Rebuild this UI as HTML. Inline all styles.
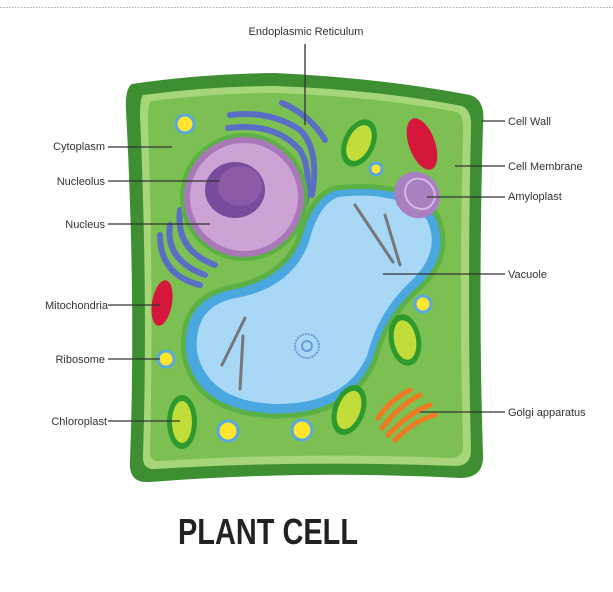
<!DOCTYPE html>
<html><head><meta charset="utf-8"><style>
html,body{margin:0;padding:0;background:#fff;width:613px;height:592px;overflow:hidden}
svg{display:block}
text{font-family:"Liberation Sans",sans-serif;fill:#333;font-size:11px}
</style></head><body>
<svg width="613" height="592" viewBox="0 0 613 592">
<line x1="0" y1="7.5" x2="613" y2="7.5" stroke="#aaa" stroke-dasharray="1.5,1.5"/>
<!-- cell wall -->
<path d="M132,84 Q200,74 275,73 Q380,78 470,95 Q486,100 483,125 Q478,300 483,455 Q484,478 460,478 Q300,470 150,482 Q128,484 130,460 Q136,300 126,110 Q125,88 132,84 Z" fill="#3d8f32"/>
<path d="M143,95 Q210,86 275,86 Q380,90 462,106 Q472,110 471,128 Q467,300 471,450 Q471,466 455,466 Q300,460 155,469 Q142,470 143,455 Q148,300 140,115 Q140,98 143,95 Z" fill="#a6d57a"/>
<path d="M151,101 Q215,93 275,93 Q380,97 457,112 Q464,116 463,130 Q459,300 463,446 Q463,458 450,458 Q300,452 160,461 Q149,462 150,450 Q154,300 148,120 Q148,104 151,101 Z" fill="#7cc054"/>
<!-- ER -->
<g fill="none" stroke="#5a6fc4" stroke-width="6" stroke-linecap="round">
<path d="M230,115 Q270,110 300,130 Q320,150 312,195"/>
<path d="M228,128 Q275,122 300,150 Q312,170 305,205"/>
<path d="M220,142 Q270,138 292,168 Q300,185 295,215"/>
<path d="M282,103 Q310,115 325,140"/>
<path d="M170,225 Q165,260 205,275"/>
<path d="M160,235 Q160,275 200,285"/>
<path d="M180,210 Q175,250 215,265"/>
</g>
<!-- nucleus -->
<circle cx="244" cy="197" r="64" fill="#5bb046"/>
<circle cx="244" cy="197" r="60" fill="#a878b8"/>
<circle cx="244" cy="197" r="54" fill="#cda2d5"/>
<ellipse cx="235" cy="190" rx="30" ry="28" fill="#7a4b9c"/>
<ellipse cx="240" cy="186" rx="22" ry="20" fill="#8d5aa8"/>
<!-- vacuole -->
<path d="M335,188 Q410,180 437,215 Q455,255 420,288 Q385,318 375,360 Q350,418 272,416 Q195,412 184,355 Q178,300 228,288 Q285,278 300,235 Q312,195 335,188 Z" fill="#4aa7e0" stroke="#5bb046" stroke-width="5"/>
<path d="M338,197 Q403,190 427,220 Q442,252 410,282 Q378,312 367,356 Q345,405 274,404 Q208,401 197,352 Q193,306 236,298 Q292,288 309,242 Q318,205 338,197 Z" fill="#a8d8f5"/>
<g stroke="#777" stroke-width="3" stroke-linecap="round">
<line x1="355" y1="205" x2="393" y2="262"/><line x1="385" y1="215" x2="400" y2="265"/>
<line x1="245" y1="318" x2="222" y2="365"/><line x1="243" y1="336" x2="240" y2="389"/>
</g>
<circle cx="307" cy="346" r="12" fill="none" stroke="#6b9ad8" stroke-width="2" stroke-dasharray="2,1"/>
<circle cx="307" cy="346" r="5" fill="none" stroke="#6b9ad8" stroke-width="2"/>
<!-- ribosomes -->
<g fill="#ffe62e" stroke="#5aa8e0" stroke-width="3">
<circle cx="185" cy="124" r="9"/><circle cx="376" cy="169" r="6"/><circle cx="423" cy="304" r="8"/>
<circle cx="166" cy="359" r="8"/><circle cx="228" cy="431" r="10"/><circle cx="302" cy="430" r="10"/>
</g>
<!-- chloroplasts -->
<g>
<ellipse cx="359" cy="143" rx="16" ry="25" transform="rotate(25 359 143)" fill="#2e9a2e"/>
<ellipse cx="359" cy="143" rx="11" ry="19" transform="rotate(25 359 143)" fill="#c2dc3a"/>
<ellipse cx="405" cy="340" rx="16" ry="26" transform="rotate(-10 405 340)" fill="#2e9a2e"/>
<ellipse cx="405" cy="340" rx="11" ry="20" transform="rotate(-10 405 340)" fill="#c2dc3a"/>
<ellipse cx="349" cy="410" rx="16" ry="26" transform="rotate(20 349 410)" fill="#2e9a2e"/>
<ellipse cx="349" cy="410" rx="11" ry="20" transform="rotate(20 349 410)" fill="#c2dc3a"/>
<ellipse cx="182" cy="422" rx="15" ry="27" fill="#2e9a2e"/>
<ellipse cx="182" cy="422" rx="10" ry="21" fill="#c2dc3a"/>
</g>
<!-- mitochondria -->
<ellipse cx="422" cy="144" rx="13" ry="27" transform="rotate(-20 422 144)" fill="#d4173a"/>
<ellipse cx="162" cy="303" rx="10" ry="23" transform="rotate(10 162 303)" fill="#d4173a"/>
<!-- amyloplast -->
<ellipse cx="417" cy="195" rx="22" ry="24" transform="rotate(-40 417 195)" fill="#a880c0"/>
<ellipse cx="420" cy="196" rx="14" ry="16" transform="rotate(-40 417 195)" fill="none" stroke="#d7b8e5" stroke-width="2"/>
<!-- golgi -->
<g fill="none" stroke="#f07a24" stroke-width="5" stroke-linecap="round">
<path d="M382,428 Q400,405 420,395"/><path d="M388,435 Q410,412 430,405"/>
<path d="M395,440 Q415,420 435,415"/><path d="M378,418 Q390,400 410,390"/>
</g>
<!-- leader lines -->
<g stroke="#333" stroke-width="1.3">
<line x1="305" y1="44" x2="305" y2="125"/>
<line x1="108" y1="147" x2="172" y2="147"/>
<line x1="108" y1="181" x2="220" y2="181"/>
<line x1="108" y1="224" x2="210" y2="224"/>
<line x1="108" y1="305" x2="160" y2="305"/>
<line x1="108" y1="359" x2="160" y2="359"/>
<line x1="108" y1="421" x2="180" y2="421"/>
<line x1="482" y1="121" x2="505" y2="121"/>
<line x1="455" y1="166" x2="505" y2="166"/>
<line x1="427" y1="197" x2="505" y2="197"/>
<line x1="383" y1="274" x2="505" y2="274"/>
<line x1="420" y1="412" x2="505" y2="412"/>
</g>
<text x="306" y="35" text-anchor="middle">Endoplasmic Reticulum</text>
<text x="105" y="150" text-anchor="end">Cytoplasm</text>
<text x="105" y="185" text-anchor="end">Nucleolus</text>
<text x="105" y="228" text-anchor="end">Nucleus</text>
<text x="108" y="309" text-anchor="end">Mitochondria</text>
<text x="105" y="363" text-anchor="end">Ribosome</text>
<text x="107" y="425" text-anchor="end">Chloroplast</text>
<text x="508" y="125">Cell Wall</text>
<text x="508" y="170">Cell Membrane</text>
<text x="508" y="200">Amyloplast</text>
<text x="508" y="278">Vacuole</text>
<text x="508" y="416">Golgi apparatus</text>
<text x="178" y="544" style="font-size:36px;font-weight:bold;fill:#222" textLength="180" lengthAdjust="spacingAndGlyphs">PLANT CELL</text>
</svg>
</body></html>
